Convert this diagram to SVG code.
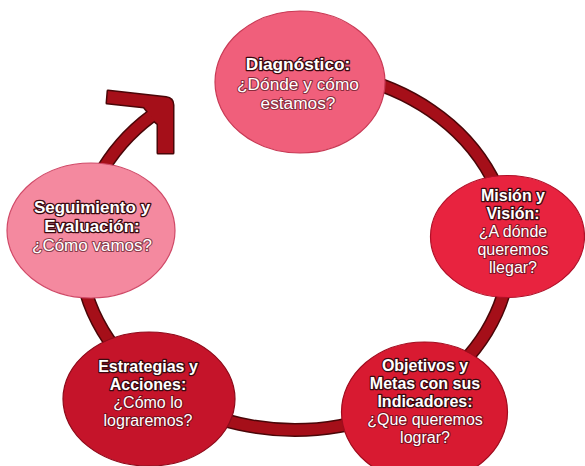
<svg xmlns="http://www.w3.org/2000/svg" width="585" height="466" viewBox="0 0 585 466">
<style>
.ring-o{fill:none;stroke:#4a0608;stroke-width:14}
.ring-i{fill:none;stroke:#a50f19;stroke-width:11}
.head-o{fill:none;stroke:#4a0608;stroke-width:3;stroke-linejoin:round}
.head-i{fill:#a50f19;stroke:none}
ellipse{stroke-width:1.2}
text{font-family:"Liberation Sans",Arial,sans-serif;fill:#fff;text-anchor:middle;paint-order:stroke;stroke-linejoin:round}
.t{font-weight:700;stroke:#3a0a10;stroke-width:2.6}
.r{font-weight:400;stroke:rgba(70,10,20,0.6);stroke-width:2.2}
</style>
<rect width="585" height="466" fill="#fff"/>
<g id="connectors">
  <path class="ring-o" d="M350.6,76.1 A215,180 0 1 1 160.3,109.7"/>
  <path class="head-o" d="M108,91 L166,97.5 Q173,98.5 173,105 L173,153 L158,153 L158,124 L155.3,121.8 L146.9,110.6 L144,107 L107,103 Z"/>
  <path class="ring-i" d="M350.6,76.1 A215,180 0 1 1 160.3,109.7"/>
  <path class="head-i" d="M108,91 L166,97.5 Q173,98.5 173,105 L173,153 L158,153 L158,124 L155.3,121.8 L146.9,110.6 L144,107 L107,103 Z"/>
</g>
<g id="diagnostico">
  <ellipse cx="300" cy="82" rx="85" ry="71" fill="#f05f7b" stroke="#c83a55"/>
  <text x="298" y="70" class="t" font-size="17.3">Diagnóstico:</text>
  <text x="298" y="89.5" class="r" font-size="17.3">¿Dónde y cómo</text>
  <text x="298" y="109" class="r" font-size="17.3">estamos?</text>
</g>
<g id="mision">
  <ellipse cx="507.5" cy="236.5" rx="77" ry="61" fill="#e8233f" stroke="#b01028"/>
  <text x="513" y="200.5" class="t" font-size="16">Misión y</text>
  <text x="513" y="218.5" class="t" font-size="16">Visión:</text>
  <text x="513" y="236.5" class="r" font-size="16">¿A dónde</text>
  <text x="513" y="254.5" class="r" font-size="16">queremos</text>
  <text x="513" y="272.5" class="r" font-size="16">llegar?</text>
</g>
<g id="objetivos">
  <ellipse cx="424.5" cy="412" rx="83" ry="70" fill="#d81a31" stroke="#a00c1e"/>
  <text x="425" y="370.5" class="t" font-size="16">Objetivos y</text>
  <text x="425" y="388.5" class="t" font-size="16">Metas con sus</text>
  <text x="425" y="406.5" class="t" font-size="16">Indicadores:</text>
  <text x="425" y="424.5" class="r" font-size="16">¿Que queremos</text>
  <text x="425" y="442.5" class="r" font-size="16">lograr?</text>
</g>
<g id="estrategias">
  <ellipse cx="149" cy="399" rx="86" ry="67" fill="#c5142a" stroke="#8e0a1a"/>
  <text x="148" y="371.8" class="t" font-size="16">Estrategias y</text>
  <text x="148" y="389.8" class="t" font-size="16">Acciones:</text>
  <text x="148" y="407.8" class="r" font-size="16">¿Cómo lo</text>
  <text x="148" y="425.8" class="r" font-size="16">lograremos?</text>
</g>
<g id="seguimiento">
  <ellipse cx="91" cy="230.5" rx="84" ry="67.5" fill="#f4899f" stroke="#d04a68"/>
  <text x="92" y="213" class="t" font-size="17">Seguimiento y</text>
  <text x="92" y="232" class="t" font-size="17">Evaluación:</text>
  <text x="92" y="251" class="r" font-size="17">¿Cómo vamos?</text>
</g>
</svg>
